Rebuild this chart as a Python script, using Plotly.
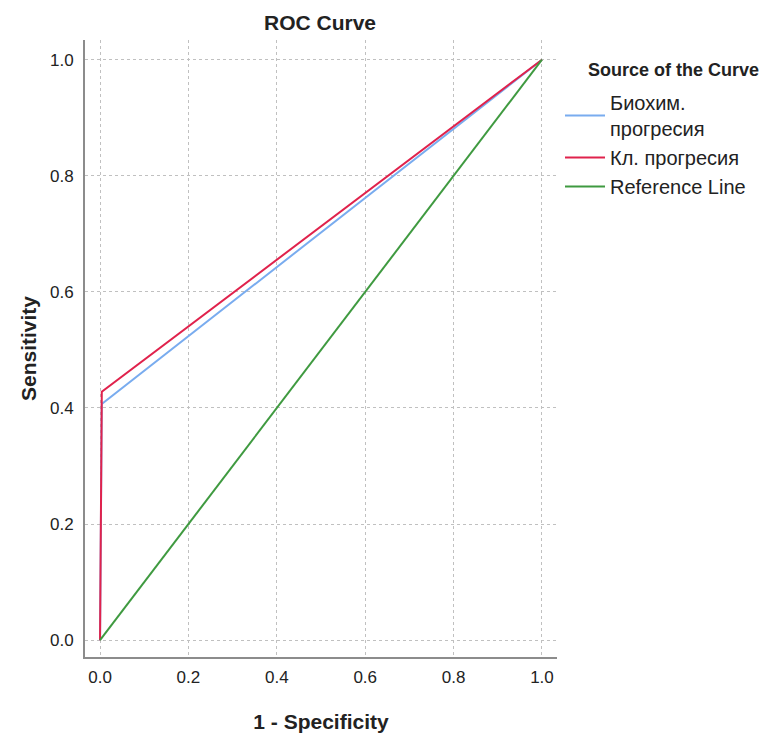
import plotly.graph_objects as go

# Data
bio_x = [0.0, 0.004, 1.0]
bio_y = [0.0, 0.407, 1.0]
kl_x = [0.0, 0.004, 1.0]
kl_y = [0.0, 0.428, 1.0]
ref_x = [0.0, 1.0]
ref_y = [0.0, 1.0]
names = ["Биохим.<br>прогресия", "Кл. прогресия", "Reference Line"]
tick_vals = [0.0, 0.2, 0.4, 0.6, 0.8, 1.0]

colors = ["#79acef", "#e0224c", "#3f9a40"]

fig = go.Figure()
fig.add_trace(go.Scatter(x=bio_x, y=bio_y, mode="lines", name=names[0], legendgroup="a",
                         line=dict(color=colors[0], width=2)))
fig.add_trace(go.Scatter(x=kl_x, y=kl_y, mode="lines", name=names[1], legendgroup="b",
                         line=dict(color=colors[1], width=2)))
fig.add_trace(go.Scatter(x=ref_x, y=ref_y, mode="lines", name=names[2], legendgroup="c",
                         line=dict(color=colors[2], width=2)))

font = "Liberation Sans, Arial, sans-serif"
axis_common = dict(
    tickvals=tick_vals, tickformat=".1f", automargin=False,
    showgrid=True, gridcolor="#c0c0c0", griddash="3px,3px", gridwidth=1,
    zeroline=False, showline=True, linecolor="#8c8c8c", linewidth=2,
    ticks="", tickfont=dict(family=font, size=17, color="#222"),
)

fig.update_layout(
    width=775, height=735,
    paper_bgcolor="white", plot_bgcolor="white",
    margin=dict(l=77, r=226, t=32, b=86),
    title=dict(text="<b>ROC Curve</b>", x=312 / 775, xanchor="center",
               y=1 - 15 / 735, yanchor="middle",
               font=dict(family=font, size=21, color="#222")),
    xaxis=dict(range=[-0.034, 1.034],
               title=dict(text="<b>1 - Specificity</b>", standoff=28,
                          font=dict(family=font, size=21, color="#222")),
               ticklabelstandoff=4,
               **axis_common),
    yaxis=dict(range=[-0.029, 1.034],
               title=dict(text="<b>Sensitivity</b>", standoff=8,
                          font=dict(family=font, size=21, color="#222")),
               ticklabelstandoff=6,
               **axis_common),
    legend=dict(x=1 + 3 / 472, xanchor="left", y=1 - 43 / 617, yanchor="top",
                font=dict(family=font, size=20, color="#222"),
                traceorder="grouped", tracegroupgap=0,
                itemwidth=40, bgcolor="rgba(0,0,0,0)"),
    annotations=[dict(text="<b>Source of the Curve</b>", xref="paper", yref="paper",
                      x=(586 - 85) / 472, xanchor="left",
                      y=1 - (70 - 40) / 617, yanchor="middle", showarrow=False,
                      font=dict(family=font, size=18, color="#222"))],
)

fig.write_html("out.html")
